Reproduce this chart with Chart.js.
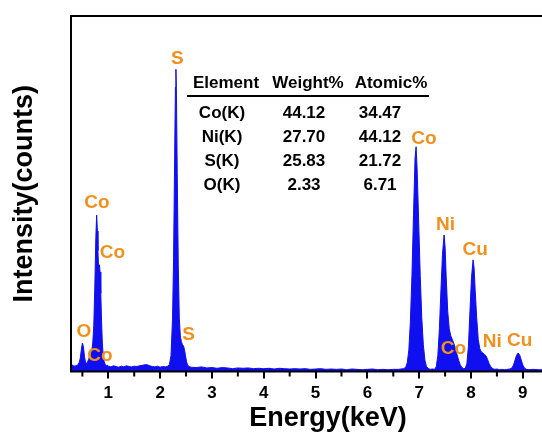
<!DOCTYPE html>
<html>
<head>
<meta charset="utf-8">
<script src="https://cdn.jsdelivr.net/npm/chart.js@4"></script>
<style>
  html, body { margin: 0; padding: 0; background: #fff; overflow: hidden; }
  #eds { display: block; }
</style>
</head>
<body>
<canvas id="eds" width="600" height="435"></canvas>
<script>
// EDS spectrum (keV / counts, arbitrary units)
const energy = [
  0.28, 0.30, 0.32, 0.34, 0.36, 0.38, 0.40, 0.42, 0.44, 0.46, 0.48, 0.50, 0.52, 0.54, 0.56, 0.58,
  0.60, 0.62, 0.64, 0.66, 0.68, 0.70, 0.72, 0.74, 0.76, 0.775, 0.79, 0.80, 0.81, 0.82, 0.83, 0.84,
  0.855, 0.87, 0.885, 0.90, 0.92, 0.94, 0.96, 0.98,
  1.00, 1.05, 1.10, 1.15, 1.20, 1.25, 1.30, 1.35, 1.40, 1.45, 1.50, 1.55, 1.60, 1.65, 1.70, 1.75,
  1.80, 1.85, 1.90, 1.95, 2.00, 2.05, 2.10, 2.15,
  2.18, 2.21, 2.24, 2.26, 2.28, 2.295, 2.305, 2.315, 2.33, 2.35, 2.37, 2.39, 2.41, 2.43, 2.45, 2.47,
  2.49, 2.51, 2.53, 2.56,
  2.60, 2.70, 2.80, 2.90, 3.00, 3.10, 3.20, 3.30, 3.40, 3.50, 3.60, 3.70, 3.80, 3.90, 4.00, 4.10,
  4.20, 4.30, 4.40, 4.50, 4.60, 4.70, 4.80, 4.90, 5.00, 5.10, 5.20, 5.30, 5.40, 5.50, 5.60, 5.70,
  5.80, 5.90, 6.00, 6.10, 6.20, 6.30, 6.40, 6.50, 6.60, 6.70,
  6.74, 6.77, 6.80, 6.83, 6.86, 6.89, 6.92, 6.94, 6.96, 6.99, 7.02, 7.05, 7.08, 7.11, 7.14, 7.18,
  7.22, 7.26, 7.30,
  7.33, 7.36, 7.39, 7.42, 7.45, 7.48, 7.50, 7.52, 7.55, 7.58, 7.61, 7.64, 7.67, 7.70, 7.73, 7.76,
  7.79, 7.82, 7.86, 7.89,
  7.92, 7.95, 7.98, 8.01, 8.04, 8.06, 8.08, 8.11, 8.14, 8.17, 8.20, 8.23, 8.26, 8.29, 8.32, 8.35,
  8.38, 8.42, 8.46, 8.50, 8.55, 8.60, 8.65, 8.70, 8.75,
  8.79, 8.82, 8.85, 8.88, 8.91, 8.94, 8.97, 9.00, 9.03, 9.07, 9.12, 9.20, 9.30, 9.40, 9.60, 9.80,
  10.0, 10.2
];
const counts = [
  16, 19, 15, 17, 14, 18, 16, 21, 26, 38, 62, 80, 70, 42, 26, 22,
  28, 34, 42, 48, 58, 80, 130, 240, 380, 440, 395, 340, 300, 292, 300, 280,
  220, 140, 80, 48, 28, 20, 16, 18,
  15, 13, 16, 14, 12, 15, 13, 16, 14, 13, 15, 14, 16, 17, 19, 19,
  16, 14, 13, 15, 12, 14, 13, 15,
  20, 45, 150, 320, 600, 800, 850, 780, 560, 300, 150, 100, 84, 76, 72, 62,
  44, 28, 18, 14,
  12, 11, 13, 10, 11, 9, 11, 10, 8, 10, 9, 10, 8, 9, 8, 9,
  7, 9, 8, 7, 8, 7, 8, 6, 7, 8, 6, 7, 6, 7, 5, 7,
  6, 5, 6, 7, 5, 6, 5, 6, 6, 8,
  12, 25, 60, 140, 270, 440, 600, 632, 570, 420, 270, 150, 75, 32, 14, 8,
  6, 7, 6,
  14, 45, 120, 230, 330, 384, 350, 270, 170, 120, 100, 90, 78, 65, 48, 32,
  20, 12, 8, 9,
  22, 70, 170, 265, 314, 290, 230, 150, 90, 64, 55, 52, 48, 44, 34, 22,
  14, 8, 6, 7, 5, 6, 5, 6, 7,
  10, 18, 32, 46, 52, 46, 32, 18, 10, 6, 5, 6, 5, 5, 4, 5,
  4, 5
];

// peak labels (text, keV, counts where the label sits)
const peakText = ['O', 'Co', 'Co', 'Co', 'S', 'S', 'Co', 'Ni', 'Co', 'Cu', 'Ni', 'Cu'];
const peakE = [0.53, 0.78, 1.08, 0.84, 2.33, 2.55, 7.09, 7.51, 7.66, 8.08, 8.41, 8.94];
const peakI = [112, 475, 335, 45, 880, 103, 655, 413, 63, 343, 84, 86];

// inset table
const tableHead = ['Element', 'Weight%', 'Atomic%'];
const tableElem = ['Co(K)', 'Ni(K)', 'S(K)', 'O(K)'];
const weightPct = ['44.12', '27.70', '25.83', '2.33'];
const atomicPct = ['34.47', '44.12', '21.72', '6.71'];

const xTicksMinor = [0.5, 1.5, 2.5, 3.5, 4.5, 5.5, 6.5, 7.5, 8.5, 9.5];

const FONT = "'Liberation Sans', Arial, sans-serif";
const ORANGE = '#F3901C';
const BLUE = '#0F0FF0';

const extras = {
  id: 'extras',
  afterDatasetsDraw(chart) {
    const { ctx, chartArea: a, scales: { x, y } } = chart;
    ctx.save();
    ctx.fillStyle = ORANGE;
    ctx.font = 'bold 19px ' + FONT;
    ctx.textAlign = 'center';
    ctx.textBaseline = 'middle';
    peakText.forEach((t, i) => {
      ctx.fillText(t, x.getPixelForValue(peakE[i]), y.getPixelForValue(peakI[i]));
    });

    // table
    ctx.fillStyle = '#000';
    ctx.font = 'bold 17px ' + FONT;
    const headX = [155, 237, 320];
    const colX = [151, 233, 309];
    tableHead.forEach((t, i) => ctx.fillText(t, a.left + headX[i], a.top + 67));
    ctx.lineWidth = 2;
    ctx.strokeStyle = '#000';
    ctx.beginPath();
    ctx.moveTo(a.left + 116, a.top + 80);
    ctx.lineTo(a.left + 358, a.top + 80);
    ctx.stroke();
    tableElem.forEach((t, i) => {
      const ry = a.top + 97 + i * 24;
      ctx.fillText(t, a.left + colX[0], ry);
      ctx.fillText(weightPct[i], a.left + colX[1], ry);
      ctx.fillText(atomicPct[i], a.left + colX[2], ry);
    });

    // frame + minor ticks
    ctx.lineWidth = 2;
    ctx.strokeRect(a.left, a.top, a.right - a.left, a.bottom - a.top);
    ctx.beginPath();
    xTicksMinor.forEach((v) => {
      const px = x.getPixelForValue(v);
      ctx.moveTo(px, a.bottom);
      ctx.lineTo(px, a.bottom + 5);
    });
    ctx.stroke();
    ctx.restore();
  }
};

new Chart(document.getElementById('eds'), {
  type: 'line',
  data: {
    datasets: [{
      data: energy.map((e, i) => ({ x: e, y: counts[i] })),
      borderColor: BLUE,
      backgroundColor: BLUE,
      borderWidth: 1,
      pointRadius: 0,
      fill: 'origin',
      tension: 0
    }]
  },
  options: {
    responsive: false,
    animation: false,
    layout: { padding: { top: 16, right: 15, left: 0, bottom: 0 } },
    plugins: { legend: { display: false }, tooltip: { enabled: false } },
    scales: {
      x: {
        type: 'linear',
        min: 0.28,
        max: 10.2,
        afterFit: (s) => { s.height = 63.5; },
        border: { display: false },
        grid: { drawOnChartArea: false, tickLength: 7, lineWidth: 2, color: '#000' },
        ticks: {
          stepSize: 1,
          includeBounds: false,
          maxRotation: 0,
          padding: 5,
          color: '#000',
          font: { family: FONT, size: 17, weight: 'bold' }
        },
        title: {
          display: true,
          text: 'Energy(keV)',
          color: '#000',
          padding: { top: 0, bottom: 0 },
          font: { family: FONT, size: 27, weight: 'bold' }
        }
      },
      y: {
        min: 0,
        max: 1000,
        afterFit: (s) => { s.width = 71; },
        border: { display: false },
        grid: { display: false },
        ticks: { display: false },
        title: {
          display: true,
          text: 'Intensity(counts)',
          color: '#000',
          padding: { top: 8, bottom: 0 },
          font: { family: FONT, size: 27, weight: 'bold' }
        }
      }
    }
  },
  plugins: [extras]
});
</script>
</body>
</html>
